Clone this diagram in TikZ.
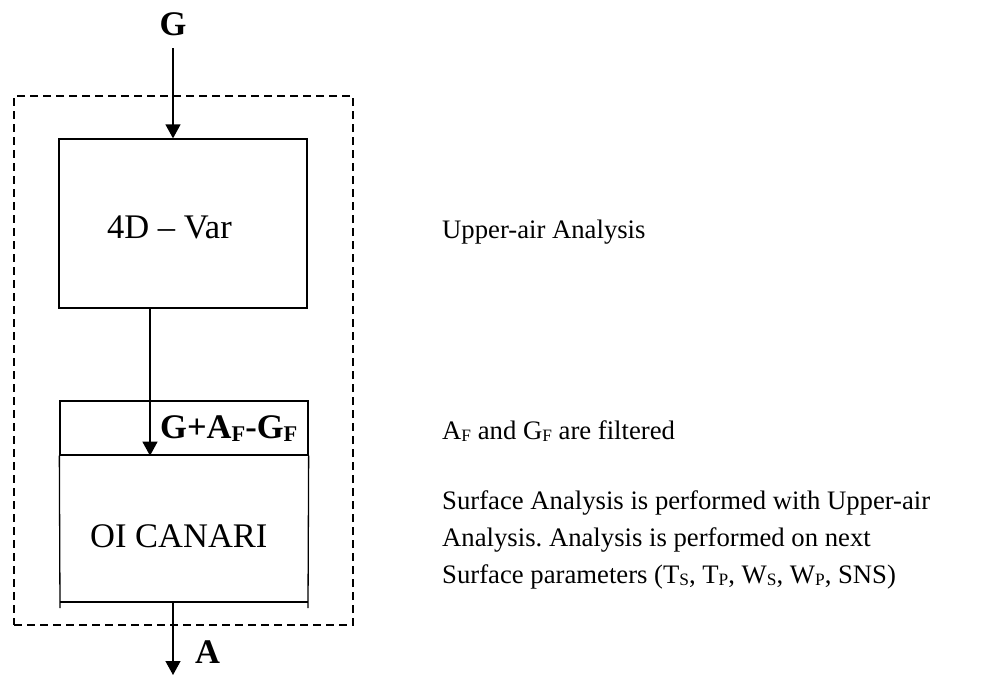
\documentclass[tikz,border=0pt]{standalone}
\usepackage{fontspec}
\setmainfont{Liberation Serif}
\usetikzlibrary{arrows.meta}
\newcommand\lowsub[1]{\raisebox{-0.1em}{\scalebox{0.65}{#1}}}
\frenchspacing
\begin{document}
\begin{tikzpicture}[x=1pt,y=-1pt,
  ln/.style={line width=1.3pt},
  box/.style={draw,line width=1.3pt,inner sep=0pt},
  dashbox/.style={draw,line width=1.3pt,dash pattern=on 8pt off 5pt,inner sep=0pt},
  arr/.style={line width=1.3pt,-{Triangle[length=14pt,width=15pt]}},
  side/.style={anchor=base west,inner sep=0pt,font=\fontsize{26.7}{37}\selectfont,align=left},
  boxtxt/.style={anchor=base west,inner sep=0pt,font=\fontsize{34.5}{40}\selectfont},
  bold/.style={anchor=base west,inner sep=0pt,font=\fontsize{34.5}{40}\selectfont\bfseries}]
\useasboundingbox (0,0) rectangle (1006,675);
% dashed frame
\node[dashbox,minimum width=339pt,minimum height=529pt] (frame) at (183.5,360.5) {};
% 4D-Var box
\node[box,minimum width=248pt,minimum height=169pt] (var) at (183,223.5) {};
\node[boxtxt] (varlbl) at (107,238) {4D – Var};
% header of lower box
\node[box,minimum width=248pt,minimum height=54pt] (hdr) at (184,428) {};
\node[bold] (hdrlbl) at (160,438) {G+A\lowsub{F}-G\lowsub{F}};
% body of lower box
\coordinate (bodyBL) at (60,602);
\coordinate (bodyBR) at (308,602);
\draw[ln] (hdr.south west) -- ([yshift=-6pt]bodyBL);
\draw[ln] (hdr.south east) -- ([yshift=-6pt]bodyBR);
\draw[ln] (bodyBL) -- (bodyBR);
\node[boxtxt] (oilbl) at (90,547) {OI CANARI};
% input G
\node[bold,anchor=base] (G) at (173,35) {G};
\coordinate (gstart) at (173,48);
\draw[arr] (gstart) -- (gstart |- var.north);
% connection
\coordinate (vout) at (150,308);
\draw[arr] (vout) -- (vout |- hdr.south);
% output A
\coordinate (aout) at (173,602);
\coordinate (aend) at (173,675);
\draw[arr] (aout) -- (aend);
\node[bold] (A) at (195,663) {A};
% side texts
\node[side] (upper) at (442,238) {Upper-air Analysis};
\node[side] (filt) at (442,439) {A\lowsub{F} and G\lowsub{F} are filtered};
\node[side] (surf) at (442,583) {Surface Analysis is performed with Upper-air\\Analysis. Analysis is performed on next\\Surface parameters (T\lowsub{S}, T\lowsub{P}, W\lowsub{S}, W\lowsub{P}, SNS)};
\end{tikzpicture}
\end{document}
